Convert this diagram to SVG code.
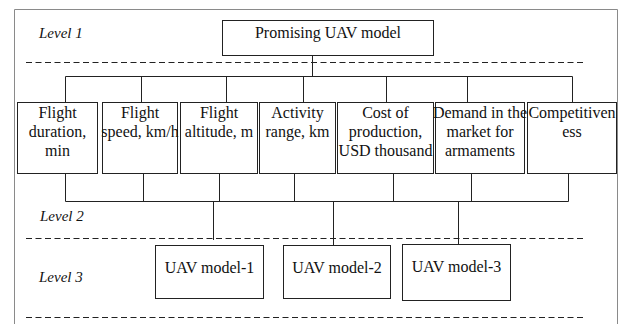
<svg xmlns="http://www.w3.org/2000/svg" width="618" height="324" viewBox="0 0 618 324">
<style>
.frame{fill:none;stroke:#8a8a8a;stroke-width:1}
.box{fill:#fff;stroke:#222;stroke-width:1}
.t{font-family:"Liberation Serif","Times New Roman",serif;font-size:16px;fill:#111;text-anchor:middle}
.lv{font-family:"Liberation Serif","Times New Roman",serif;font-size:15px;font-style:italic;fill:#111}
.dash{stroke:#222;stroke-width:1;stroke-dasharray:6,3.5;fill:none}
.c{stroke:#222;stroke-width:1;fill:none}
</style>
<rect width="618" height="324" fill="#fff"/>
<path class="frame" d="M14.5,324 V9.5 H617.5 V324"/>
<g id="levels">
<text class="lv" x="39" y="38">Level 1</text>
<text class="lv" x="40" y="221">Level 2</text>
<text class="lv" x="39" y="282">Level 3</text>
<line class="dash" x1="26" y1="62.5" x2="583" y2="62.5"/>
<line class="dash" x1="26" y1="238.5" x2="583" y2="238.5"/>
<line class="dash" x1="26" y1="317.5" x2="583" y2="317.5"/>
</g>
<g id="connectors">
<path class="c" d="M312.5,55 V76.5 M65.5,76.5 H572.5 M65.5,76.5 V102 M141.5,76.5 V102 M226.5,76.5 V102 M303.5,76.5 V102 M386.5,76.5 V102 M467.5,76.5 V102 M572.5,76.5 V102"/>
<path class="c" d="M65.5,173 V201.5 M143.5,173 V201.5 M219.5,173 V201.5 M294.5,173 V201.5 M393.5,173 V201.5 M471.5,173 V201.5 M568.5,173 V201.5 M65.5,201.5 H568.5"/>
<path class="c" d="M213.5,201.5 V240 M333.5,201.5 V245 M458.5,201.5 V244"/>
</g>
<g id="root">
<rect class="box" x="222.5" y="20.5" width="211" height="35"/>
<text class="t" x="328" y="38">Promising UAV model</text>
</g>
<g id="c1">
<rect class="box" x="17.5" y="102.5" width="80" height="71"/>
<text class="t" x="57.5" y="118">Flight</text>
<text class="t" x="57.5" y="137">duration,</text>
<text class="t" x="57.5" y="156">min</text>
</g>
<g id="c2">
<rect class="box" x="102.5" y="102.5" width="75" height="71"/>
<text class="t" x="140" y="118">Flight</text>
<text class="t" x="140" y="137">speed, km/h</text>
</g>
<g id="c3">
<rect class="box" x="180.5" y="102.5" width="77" height="71"/>
<text class="t" x="219" y="118">Flight</text>
<text class="t" x="219" y="137">altitude, m</text>
</g>
<g id="c4">
<rect class="box" x="259.5" y="102.5" width="76" height="71"/>
<text class="t" x="297.5" y="118">Activity</text>
<text class="t" x="297.5" y="137">range, km</text>
</g>
<g id="c5">
<rect class="box" x="337.5" y="102.5" width="96" height="71"/>
<text class="t" x="385.5" y="118">Cost of</text>
<text class="t" x="385.5" y="137">production,</text>
<text class="t" x="385.5" y="156">USD thousand</text>
</g>
<g id="c6">
<rect class="box" x="435.5" y="102.5" width="89" height="71"/>
<text class="t" x="480" y="118">Demand in the</text>
<text class="t" x="480" y="137">market for</text>
<text class="t" x="480" y="156">armaments</text>
</g>
<g id="c7">
<rect class="box" x="527.5" y="102.5" width="89" height="71"/>
<text class="t" x="572" y="118">Competitiven</text>
<text class="t" x="572" y="137">ess</text>
</g>
<g id="m1">
<rect class="box" x="155.5" y="245.5" width="108" height="53"/>
<text class="t" x="209.5" y="273">UAV model-1</text>
</g>
<g id="m2">
<rect class="box" x="283.5" y="245.5" width="107" height="53"/>
<text class="t" x="337" y="273">UAV model-2</text>
</g>
<g id="m3">
<rect class="box" x="402.5" y="244.5" width="108" height="56"/>
<text class="t" x="456.5" y="272">UAV model-3</text>
</g>
</svg>
